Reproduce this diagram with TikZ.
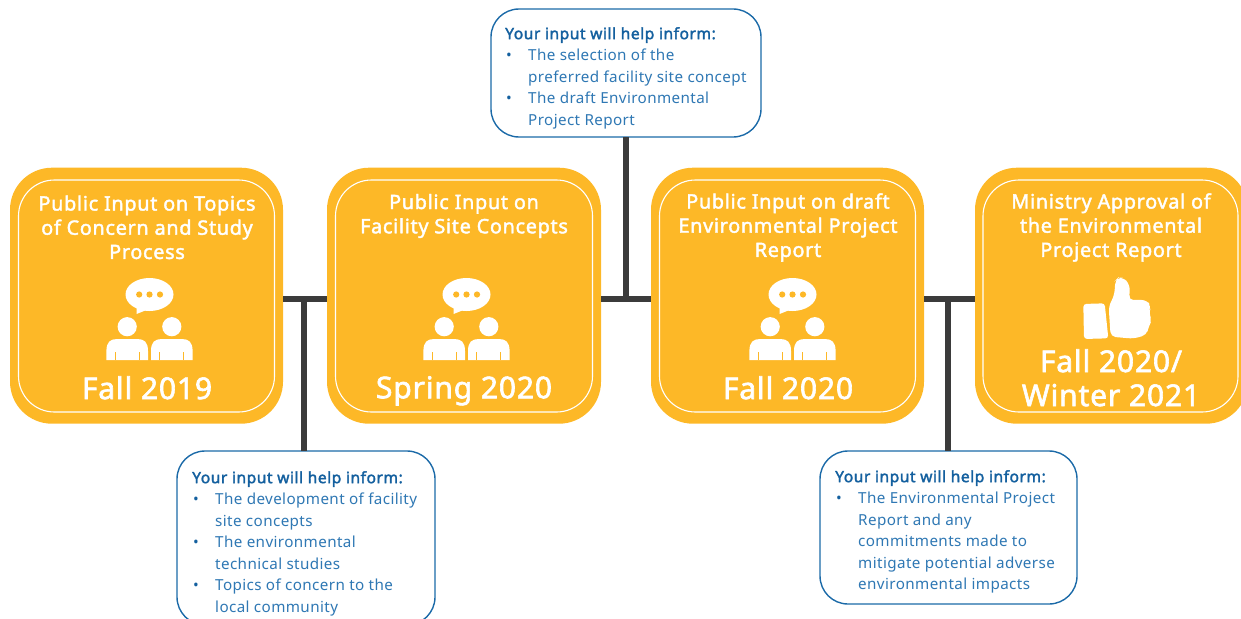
\documentclass[tikz,border=0pt]{standalone}
\usepackage{fontspec}
\setmainfont{Noto Sans}
\newfontfamily\titlefont{Noto Sans}[FakeBold=2.0,LetterSpace=3.6]
\newfontfamily\datefont{Noto Sans}[FakeBold=2.0,LetterSpace=2.8]
\newfontfamily\headfont{Noto Sans}[FakeBold=2.0,LetterSpace=3.4]
\newfontfamily\itemfont{Noto Sans}[LetterSpace=2.6]
\definecolor{amber}{HTML}{FDB827}
\definecolor{linkdark}{HTML}{3B3B3B}
\definecolor{headblue}{HTML}{14609F}
\definecolor{itemblue}{HTML}{2F78B4}
\definecolor{edgeblue}{HTML}{1B6AA8}
\tikzset{
  outerbox/.style={fill=amber,draw=none,rounded corners=42pt,minimum width=#1,minimum height=256pt,inner sep=0pt,outer sep=0pt},
  innerbox/.style={draw=white,line width=1.1pt,rounded corners=36pt,minimum width=#1,minimum height=232pt,inner sep=0pt,outer sep=0pt},
  link/.style={draw=linkdark,line width=6pt},
  callout/.style={draw=edgeblue,line width=1.4pt,fill=white,rounded corners=28pt,inner sep=0pt,outer sep=0pt,minimum width=#1},
  title/.style={text=white,align=center,font=\titlefont\fontsize{19.8}{24.2}\selectfont,inner sep=0pt},
  datetext/.style={text=white,align=center,font=\datefont\fontsize{30}{34}\selectfont,inner sep=0pt},
  calltext/.style={anchor=north west,align=left,inner sep=0pt,text=itemblue,font=\itemfont\fontsize{15.2}{21.5}\selectfont},
}
\newcommand{\hd}{{\headfont\color{headblue}\fontsize{15.6}{21.5}\selectfont Your input will help inform:}}
\newcommand{\bl}{\makebox[23pt][l]{\hspace{1pt}\color{headblue}•}}
\newcommand{\ind}{\hspace*{23pt}}
\newcommand{\peopleicon}[1]{%
\begin{scope}[shift={(#1,0)}]
  \fill[white] (0,294.5) ellipse [x radius=24,y radius=16.5];
  \fill[white] (-13,308) -- (-13,314) -- (2,308) -- cycle;
  \foreach \dx in {-10.3,0,10.5} \fill[amber] (\dx,294.5) circle (3.1);
  \foreach \cx in {-22.3,22.3} {
    \fill[white] (\cx,326.7) circle (9.6);
    \fill[white] (\cx-20.8,360) -- (\cx-20.8,351) .. controls (\cx-20.8,342) and (\cx-17,339) .. (\cx-10,339) -- (\cx+10,339) .. controls (\cx+17,339) and (\cx+20.8,342) .. (\cx+20.8,351) -- (\cx+20.8,360) -- cycle;
    \draw[amber,line width=.8pt] (\cx-12,352) -- (\cx-12,360) (\cx+12,352) -- (\cx+12,360);
  }
\end{scope}}
\begin{document}
\begin{tikzpicture}[x=1pt,y=-1pt]
\useasboundingbox (0,0) rectangle (1241,618);
\clip (0,0) rectangle (1241,618);
\coordinate (j1) at (304.3,299.3);
\coordinate (j2) at (626,299.3);
\coordinate (j3) at (948.3,299.3);
% outer boxes
\node[outerbox=273pt] (b1) at (146.5,295.7) {};
\node[outerbox=274pt] (b2) at (464,295.7) {};
\node[outerbox=273pt] (b3) at (787.5,295.7) {};
\node[outerbox=273pt] (b4) at (1111.5,295.7) {};
% callouts
\node[callout=258pt,minimum height=174pt] (c1) at (306,538) {};
\node[callout=270pt,minimum height=128pt] (c2) at (626,73) {};
\node[callout=257pt,minimum height=153pt] (c3) at (948.5,527.5) {};
% connectors
\draw[link] (b1.east |- j1) -- (b2.west |- j1);
\draw[link] (b2.east |- j2) -- (b3.west |- j2);
\draw[link] (b3.east |- j3) -- (b4.west |- j3);
\draw[link] (j1) -- (j1 |- c1.north);
\draw[link] (j2) -- (j2 |- c2.south);
\draw[link] (j3) -- (j3 |- c3.north);
% inner outlines
\node[innerbox=256pt] (i1) at (146.5,296) {};
\node[innerbox=257pt] (i2) at (464,296) {};
\node[innerbox=256pt] (i3) at (787.5,296) {};
\node[innerbox=255pt] (i4) at (1110.5,296) {};
% titles
\node[title] (t1) at (147,227.3) {Public Input on Topics\\of Concern and Study\\Process};
\node[title] (t2) at (464,216) {Public Input on\\Facility Site Concepts};
\node[title] (t3) at (788,227.5) {Public Input on draft\\Environmental Project\\Report};
\node[title] (t4) at (1111,227.5) {Ministry Approval of\\the Environmental\\Project Report};
% dates
\node[datetext] (d1) at (147,387.8) {Fall 2019};
\node[datetext] (d2) at (464,390.8) {Spring 2020};
\node[datetext] (d3) at (788,387.8) {Fall 2020};
\node[datetext] (d4) at (1111,377.8) {Fall 2020/\\Winter 2021};
% icons
\peopleicon{149.5}
\peopleicon{466.5}
\peopleicon{792.5}
\begin{scope}[shift={(960,160)},x=0.3333pt,y=-0.3333pt]
  \fill[white,rounded corners=3pt] (370,432) -- (434,430) -- (445,535) -- (372,537) -- cycle;
  \fill[white,rounded corners=5pt] (446,440) -- (463,405) -- (466,362) -- (474,354) -- (490,352) -- (508,372) -- (510,400) -- (505,420) -- (560,420) -- (574,440) -- (566,460) -- (576,480) -- (566,500) -- (560,525) -- (520,536) -- (452,530) -- cycle;
\end{scope}
% callout text
\node[calltext] (x1) at (192,471) {\hd\\
\bl The development of facility\\
\ind site concepts\\
\bl The environmental\\
\ind technical studies\\
\bl Topics of concern to the\\
\ind local community};
\node[calltext] (x2) at (505,27) {\hd\\
\bl The selection of the\\
\ind preferred facility site concept\\
\bl The draft Environmental\\
\ind Project Report};
\node[calltext] (x3) at (835,470) {\hd\\
\bl The Environmental Project\\
\ind Report and any\\
\ind commitments made to\\
\ind mitigate potential adverse\\
\ind environmental impacts};
\end{tikzpicture}
\end{document}
